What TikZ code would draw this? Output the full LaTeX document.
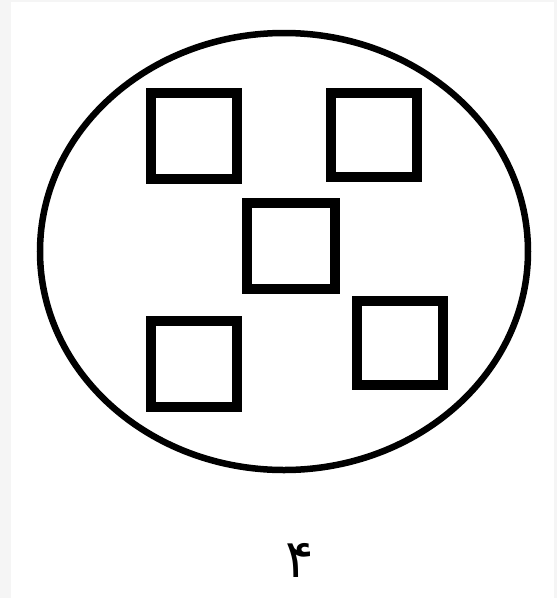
\documentclass[tikz,border=0pt]{standalone}
\usepackage{fontspec}
\usetikzlibrary{shapes.geometric}
\newfontfamily\arabicfont[Script=Arabic]{DejaVu Sans}
\TeXXeTstate=1
\begin{document}
\begin{tikzpicture}[x=1pt,y=-1pt,
  sq/.style={draw=black,line width=10pt,fill=white},
  outline/.style={draw=black,line width=6.5pt}]
\useasboundingbox (0,0) rectangle (557,598);
\fill[white] (0,0) rectangle (557,598);
\fill[black!4] (0,0) rectangle (11,598);
\fill[black!4] (554,0) rectangle (557,598);
\fill[black!4] (0,0) rectangle (557,2);
\node[outline,ellipse,minimum width=488pt,minimum height=437pt,inner sep=0pt] (circ) at (284,251.5) {};
\draw[sq] (151,93) rectangle (237,179);
\draw[sq] (331,93) rectangle (417,177);
\draw[sq] (247,203) rectangle (335,289);
\draw[sq] (151,321) rectangle (237,407);
\draw[sq] (357,301) rectangle (443,385);
\node[font=\arabicfont\fontsize{53}{60}\selectfont,inner sep=0pt] (lbl) at (300,560) {\beginR ۴\endR};
\end{tikzpicture}
\end{document}
